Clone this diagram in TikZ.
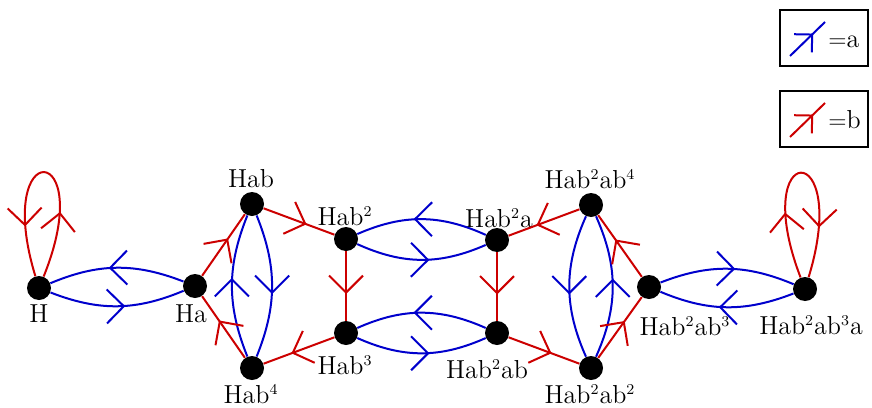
\documentclass[tikz,border=0pt]{standalone}
\usetikzlibrary{arrows.meta,decorations.markings}
\definecolor{ablue}{RGB}{0,0,204}
\definecolor{bred}{RGB}{204,0,0}
\newcommand\supr[1]{\textsuperscript{\fontsize{7.5}{8}\selectfont #1}}
\begin{document}
\begin{tikzpicture}[x=0.5pt,y=0.5pt,
  font=\fontsize{13}{15}\selectfont,
  >={Straight Barb[length=8.5pt,width=17pt,sharp]},
  dot/.style={circle,fill=black,minimum size=12pt,inner sep=0pt},
  lbl/.style={inner sep=0pt,anchor=base},
  edge/.style={line width=1pt},
  mid/.style={postaction={decorate,decoration={markings,
      mark=at position 0.5 with {\arrow[xshift=4pt]{>}}}}},
  loopmarks/.style={postaction={decorate,decoration={markings,
      mark=at position 0.26 with {\arrow[xshift=4pt]{>}},
      mark=at position 0.74 with {\arrow[xshift=4pt]{>}}}}},
  legbox/.style={draw,line width=1pt,minimum width=44pt,minimum height=28pt,inner sep=0pt},
  legmark/.style={postaction={decorate,decoration={markings,
      mark=at position 0.66 with {\arrow{Straight Barb[length=6.3pt,width=12.7pt,sharp]}}}}}]
\useasboundingbox (0,0) rectangle (872,-407);

% vertices
\node[dot] (H) at (39,-288) {};
\node[dot] (Ha) at (195,-286) {};
\node[dot] (Hab) at (252,-204) {};
\node[dot] (Hab4) at (252,-368) {};
\node[dot] (Hab2) at (346,-239) {};
\node[dot] (Hab3) at (346,-333) {};
\node[dot] (Hab2a) at (497,-240) {};
\node[dot] (Hab2ab) at (497,-333) {};
\node[dot] (Hab2ab4) at (591,-205) {};
\node[dot] (Hab2ab2) at (591,-368) {};
\node[dot] (Hab2ab3) at (649,-287) {};
\node[dot] (Hab2ab3a) at (805,-289) {};

% labels
\node[lbl] (lH) at (39,-322) {H};
\node[lbl] (lHa) at (191,-322) {Ha};
\node[lbl] (lHab) at (251,-187) {Hab};
\node[lbl] (lHab4) at (251,-403) {Hab\supr{4}};
\node[lbl] (lHab2) at (345,-225) {Hab\supr{2}};
\node[lbl] (lHab3) at (345,-374) {Hab\supr{3}};
\node[lbl] (lHab2a) at (499,-227) {Hab\supr{2}a};
\node[lbl] (lHab2ab) at (487,-378) {Hab\supr{2}ab};
\node[lbl] (lHab2ab4) at (590,-188) {Hab\supr{2}ab\supr{4}};
\node[lbl] (lHab2ab2) at (590,-403) {Hab\supr{2}ab\supr{2}};
\node[lbl] (lHab2ab3) at (685,-335) {Hab\supr{2}ab\supr{3}};
\node[lbl] (lHab2ab3a) at (811,-334) {Hab\supr{2}ab\supr{3}a};

% a-edges (blue)
\begin{scope}[ablue,edge]
\draw[mid] (H) to[bend right=22] (Ha);
\draw[mid] (Ha) to[bend right=22] (H);
\draw[mid] (Hab4) to[bend left=22] (Hab);
\draw[mid] (Hab) to[bend left=22] (Hab4);
\draw[mid] (Hab2a) to[bend right=24] (Hab2);
\draw[mid] (Hab2) to[bend right=24] (Hab2a);
\draw[mid] (Hab2ab) to[bend right=24] (Hab3);
\draw[mid] (Hab3) to[bend right=24] (Hab2ab);
\draw[mid] (Hab2ab4) to[bend right=24] (Hab2ab2);
\draw[mid] (Hab2ab2) to[bend right=24] (Hab2ab4);
\draw[mid] (Hab2ab3) to[bend left=22] (Hab2ab3a);
\draw[mid] (Hab2ab3a) to[bend left=22] (Hab2ab3);
\end{scope}

% b-edges (red)
\begin{scope}[bred,edge]
\draw[loopmarks] (H) .. controls +(68:80pt) and +(107:80pt) .. (H);
\draw[mid] (Ha) -- (Hab);
\draw[mid] (Hab4) -- (Ha);
\draw[mid] (Hab) -- (Hab2);
\draw[mid] (Hab2) -- (Hab3);
\draw[mid] (Hab3) -- (Hab4);
\draw[mid] (Hab2a) -- (Hab2ab);
\draw[mid] (Hab2ab4) -- (Hab2a);
\draw[mid] (Hab2ab) -- (Hab2ab2);
\draw[mid] (Hab2ab2) -- (Hab2ab3);
\draw[mid] (Hab2ab3) -- (Hab2ab4);
\draw[loopmarks] (Hab2ab3a) .. controls +(111:80pt) and +(73:80pt) .. (Hab2ab3a);
\end{scope}

% legend
\node[legbox] (legA) at (824,-38) {};
\coordinate (la1) at (790,-56);
\coordinate (la2) at (825,-22);
\draw[ablue,edge,legmark] (la1) -- (la2);
\node[inner sep=0pt,anchor=base west] (ta) at (828,-47) {$=$a};

\node[legbox] (legB) at (824,-119) {};
\coordinate (lb1) at (790,-137);
\coordinate (lb2) at (825,-103);
\draw[bred,edge,legmark] (lb1) -- (lb2);
\node[inner sep=0pt,anchor=base west] (tb) at (828,-128) {$=$b};
\end{tikzpicture}
\end{document}
